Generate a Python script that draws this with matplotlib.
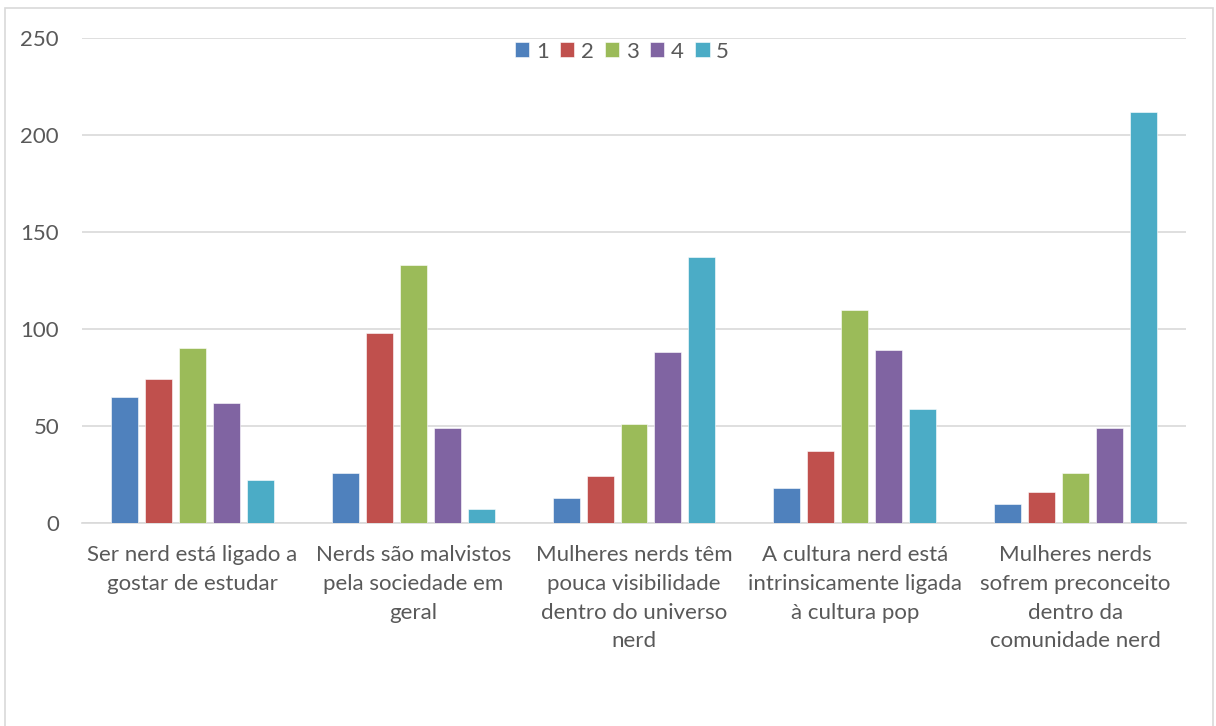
import matplotlib
matplotlib.use("Agg")
import matplotlib.pyplot as plt
import numpy as np
from matplotlib.patches import Rectangle

categories = [
    "Ser nerd está ligado a\ngostar de estudar",
    "Nerds são malvistos\npela sociedade em\ngeral",
    "Mulheres nerds têm\npouca visibilidade\ndentro do universo\nnerd",
    "A cultura nerd está\nintrinsicamente ligada\nà cultura pop",
    "Mulheres nerds\nsofrem preconceito\ndentro da\ncomunidade nerd",
]
series_names = ["1", "2", "3", "4", "5"]
s1 = [65, 26, 13, 18, 10]
s2 = [74, 98, 24, 37, 16]
s3 = [90, 133, 51, 110, 26]
s4 = [62, 49, 88, 89, 49]
s5 = [22, 7, 137, 59, 212]
yticks = [0, 50, 100, 150, 200, 250]

colors = ["#4F81BD", "#C0504D", "#9BBB59", "#8064A2", "#4BACC6"]
series = [s1, s2, s3, s4, s5]

plt.rcParams['font.family'] = ['Lato', 'DejaVu Sans']
W, H = 1216, 726
fig = plt.figure(figsize=(W / 100, H / 100), dpi=100)
fig.patch.set_facecolor("white")
# outer chart border
fig.add_artist(Rectangle((5 / W, -0.01), (1213 - 5) / W, (H - 8) / H + 0.01,
                         transform=fig.transFigure, fill=False,
                         edgecolor="#D9D9D9", linewidth=1.2))

left, right, top, bottom = 82, 1186, 38, 523
ax = fig.add_axes([left / W, 1 - bottom / H, (right - left) / W, (bottom - top) / H])

x = np.arange(len(categories))
step = 34 / 221
width = 27 / 221
for i, (vals, c, name) in enumerate(zip(series, colors, series_names)):
    ax.bar(x + (i - 2) * step, vals, width=width, color=c, label=name,
           edgecolor="white", linewidth=0.4, zorder=3)

ax.set_xlim(-0.5, len(categories) - 0.5)
ax.set_ylim(0, 250)
ax.set_yticks(yticks)
ax.set_yticklabels([str(v) for v in yticks])
ax.yaxis.grid(True, color="#D9D9D9", linewidth=1.2, zorder=0)
ax.set_axisbelow(True)
for sp in ["top", "right", "left"]:
    ax.spines[sp].set_visible(False)
ax.spines["bottom"].set_color("#D9D9D9")
ax.spines["bottom"].set_linewidth(1.2)
ax.tick_params(axis="both", length=0, colors="#595959", labelsize=16)
ax.tick_params(axis="y", pad=16.5)
ax.tick_params(axis="x", pad=16)
ax.set_xticks(x)
ax.set_xticklabels(categories, linespacing=1.54)

leg = ax.legend(loc="upper center", bbox_to_anchor=(0.489, 1.034), ncol=5, frameon=False,
                fontsize=16, handlelength=0.65, handleheight=0.65, handletextpad=0.3,
                columnspacing=0.5, labelcolor="#595959")

fig.savefig("out.png", dpi=100, facecolor="white")
